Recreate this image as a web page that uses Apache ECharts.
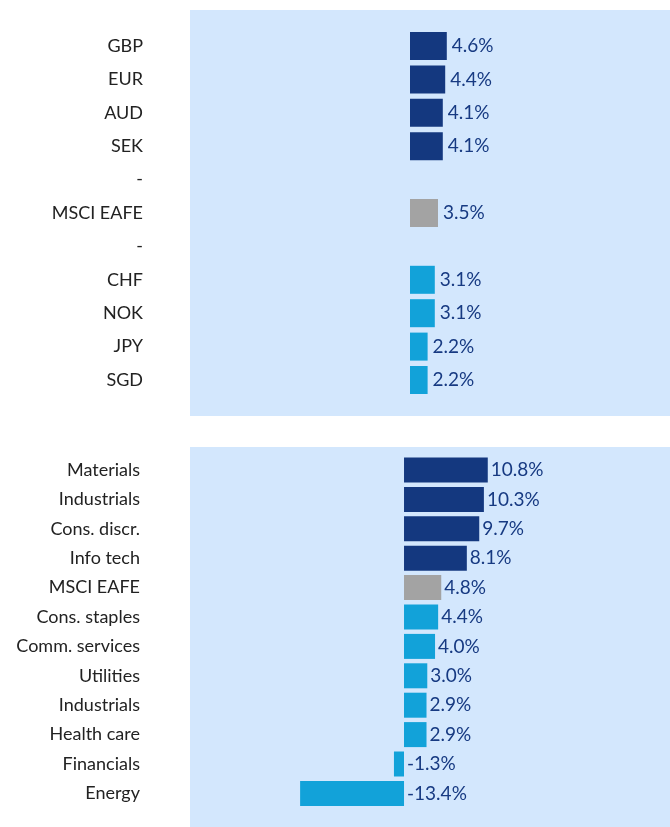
<!DOCTYPE html>
<html>
<head>
<meta charset="utf-8">
<script src="https://cdn.jsdelivr.net/npm/echarts@6/dist/echarts.min.js"></script>
<style>html,body{margin:0;padding:0;background:#fff}#c{width:670px;height:827px}</style>
</head>
<body>
<div id="c"></div>
<script>
var topCats = ['GBP','EUR','AUD','SEK','-','MSCI EAFE','-','CHF','NOK','JPY','SGD'];
var topVals = [4.6, 4.4, 4.1, 4.1, null, 3.5, null, 3.1, 3.1, 2.2, 2.2];
var topGroups = ['dark','dark','dark','dark','none','grey','none','light','light','light','light'];

var botCats = ['Materials','Industrials','Cons. discr.','Info tech','MSCI EAFE','Cons. staples','Comm. services','Utilities','Industrials ','Health care','Financials','Energy'];
var botVals = [10.8, 10.3, 9.7, 8.1, 4.8, 4.4, 4.0, 3.0, 2.9, 2.9, -1.3, -13.4];
var botGroups = ['dark','dark','dark','dark','grey','light','light','light','light','light','light','light'];

var colors = {dark:'#14387f', grey:'#a3a3a3', light:'#12a2d9', none:'#ffffff'};
var valueColor = '#173a82';
var font = 'Lato';

function items(vals, groups){
  return vals.map(function(v,i){
    return {value: v, itemStyle:{color: colors[groups[i]]}};
  });
}
function trimLabel(v){ return String(v).trim(); }

var chart = echarts.init(document.getElementById('c'), null, {renderer:'canvas'});
chart.setOption({
  animation:false,
  graphic:[
    {type:'rect', z:-10, shape:{x:190,y:10,width:480,height:406}, style:{fill:'#d3e7fd'}},
    {type:'rect', z:-10, shape:{x:190,y:447,width:480,height:380}, style:{fill:'#d3e7fd'}}
  ],
  grid:[
    {left:190, width:480, top:29.3, height:367.4},
    {left:190, width:480, top:455.3, height:352.8}
  ],
  xAxis:[
    {gridIndex:0, type:'value', min:-27.5, max:32.5, show:false, splitLine:{show:false}},
    {gridIndex:1, type:'value', min:-27.6, max:34.3, show:false, splitLine:{show:false}}
  ],
  yAxis:[
    {gridIndex:0, type:'category', data:topCats, inverse:true,
     axisLine:{show:false}, axisTick:{show:false},
     axisLabel:{margin:47, color:'#222', fontSize:18, fontFamily:font, formatter:trimLabel}},
    {gridIndex:1, type:'category', data:botCats, inverse:true,
     axisLine:{show:false}, axisTick:{show:false},
     axisLabel:{margin:50, color:'#222', fontSize:18, fontFamily:font, formatter:trimLabel}}
  ],
  series:[
    {type:'bar', xAxisIndex:0, yAxisIndex:0, barWidth:28, data:items(topVals, topGroups),
     label:{show:true, position:'right', distance:5, color:valueColor, fontSize:19, fontFamily:font,
       formatter:function(p){return p.value==null?'':p.value.toFixed(1)+'%';}}},
    {type:'bar', xAxisIndex:1, yAxisIndex:1, barWidth:25, data:items(botVals, botGroups),
     label:{show:true, position:'right', distance:3, color:valueColor, fontSize:19, fontFamily:font,
       formatter:function(p){return p.value.toFixed(1)+'%';}}}
  ]
});
</script>
</body>
</html>
